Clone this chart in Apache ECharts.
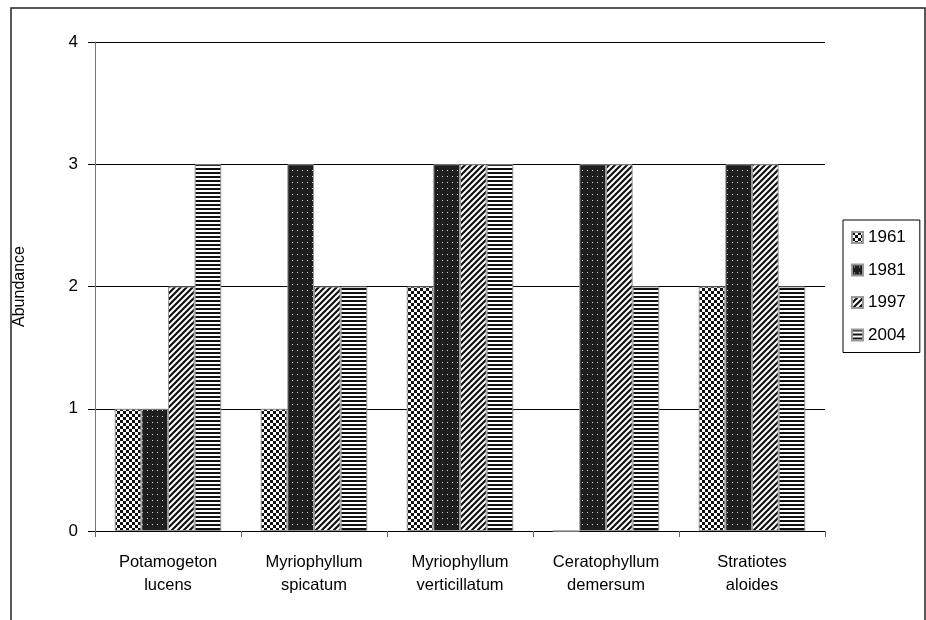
<!DOCTYPE html>
<html>
<head>
<meta charset="utf-8">
<script src="https://cdn.jsdelivr.net/npm/echarts@6/dist/echarts.min.js"></script>
<style>
  html, body { margin: 0; padding: 0; background: #fff; }
  #chart { width: 926px; height: 620px; }
</style>
</head>
<body>
<div id="chart"></div>
<script>
const categories = [
  'Potamogeton\nlucens',
  'Myriophyllum\nspicatum',
  'Myriophyllum\nverticillatum',
  'Ceratophyllum\ndemersum',
  'Stratiotes\naloides'
];
const years = ['1961', '1981', '1997', '2004'];
const v1961 = [1, 1, 2, 0, 2];
const v1981 = [1, 3, 3, 3, 3];
const v1997 = [2, 2, 3, 3, 3];
const v2004 = [3, 2, 3, 2, 2];

// fill patterns drawn on small canvases
function makePattern(w, h, draw) {
  const c = document.createElement('canvas');
  c.width = w; c.height = h;
  const ctx = c.getContext('2d');
  draw(ctx);
  return { image: c, repeat: 'repeat' };
}
const checker = makePattern(6, 6, ctx => {
  ctx.fillStyle = '#fff'; ctx.fillRect(0, 0, 6, 6);
  ctx.fillStyle = '#111';
  ctx.fillRect(0, 0, 3, 3);
  ctx.fillRect(3, 3, 3, 3);
});
const dotted = makePattern(5, 6, ctx => {
  ctx.fillStyle = '#1e1e1e'; ctx.fillRect(0, 0, 5, 6);
  ctx.fillStyle = '#d8d8d8'; ctx.fillRect(2, 2, 1, 1);
});
const diagonal = makePattern(6, 6, ctx => {
  ctx.fillStyle = '#fff'; ctx.fillRect(0, 0, 6, 6);
  ctx.strokeStyle = '#111'; ctx.lineWidth = 2.2;
  ctx.beginPath();
  ctx.moveTo(-1, 7); ctx.lineTo(7, -1);
  ctx.moveTo(-4, 4); ctx.lineTo(4, -4);
  ctx.moveTo(2, 10); ctx.lineTo(10, 2);
  ctx.stroke();
});
const horizontal = makePattern(4, 4, ctx => {
  ctx.fillStyle = '#fff'; ctx.fillRect(0, 0, 4, 4);
  ctx.fillStyle = '#111'; ctx.fillRect(0, 0, 4, 2);
});
const fills = [checker, dotted, diagonal, horizontal];
const values = [v1961, v1981, v1997, v2004];

const chart = echarts.init(document.getElementById('chart'));
chart.setOption({
  animation: false,
  backgroundColor: '#fff',
  textStyle: { fontFamily: 'Liberation Sans, Arial, sans-serif', color: '#000' },
  graphic: [
    {
      type: 'rect',
      shape: { x: 11, y: 8, width: 914, height: 640 },
      style: { fill: 'none', stroke: '#222', lineWidth: 1.5 },
      silent: true
    }
  ],
  grid: { left: 95, right: 101, top: 42, bottom: 89 },
  legend: {
    orient: 'vertical',
    left: 843,
    top: 220,
    padding: [9, 14, 9, 8],
    itemGap: 15.5,
    itemWidth: 11,
    itemHeight: 11,
    icon: 'rect',
    borderColor: '#000',
    borderWidth: 1,
    textStyle: { fontSize: 17, color: '#000' },
    data: years
  },
  xAxis: {
    type: 'category',
    data: categories,
    axisLine: { lineStyle: { color: '#000', width: 1 } },
    axisTick: { show: true, length: 6, lineStyle: { color: '#666' } },
    axisLabel: { fontSize: 16.5, color: '#000', lineHeight: 23, margin: 20, interval: 0 }
  },
  yAxis: {
    type: 'value',
    min: 0,
    max: 4,
    interval: 1,
    name: 'Abundance',
    nameLocation: 'middle',
    nameGap: 67,
    nameTextStyle: { fontSize: 16, color: '#000' },
    axisLine: { show: true, lineStyle: { color: '#777' } },
    axisTick: { show: true, length: 7, lineStyle: { color: '#000' } },
    axisLabel: { fontSize: 17, color: '#000', margin: 17 },
    splitLine: { lineStyle: { color: '#000', width: 1 } }
  },
  series: years.map((y, i) => ({
    name: y,
    type: 'bar',
    data: values[i],
    barGap: '0%',
    barCategoryGap: '27%',
    itemStyle: { color: fills[i], borderColor: '#999', borderWidth: 1 }
  }))
});
</script>
</body>
</html>
